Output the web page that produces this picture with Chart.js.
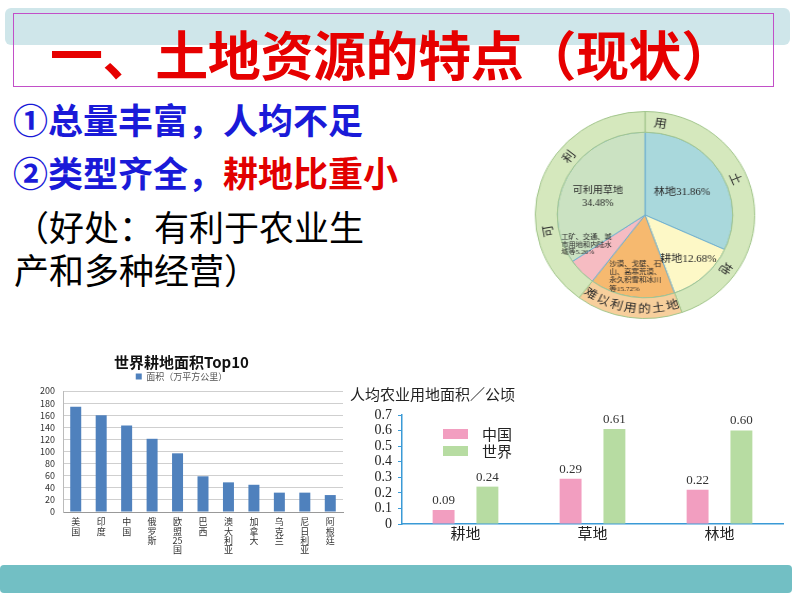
<!DOCTYPE html>
<html>
<head>
<meta charset="utf-8">
<script src="https://cdn.jsdelivr.net/npm/chart.js@4.4.0/dist/chart.umd.min.js"></script>
<style>
  body { margin: 0; width: 794px; height: 596px; background: #fff; position: relative; overflow: hidden;
         font-family: "Noto Sans CJK SC", sans-serif; }
  .abs { position: absolute; white-space: nowrap; }
  .pt { font-size: 35px; line-height: 40px; }
  .blue { color: #1a1ad8; font-weight: bold; }
  .red { color: #e20000; font-weight: bold; }
</style>
</head>
<body>
<!-- 상단 제목 영역 -->
<div class="abs" style="left:5px;top:8px;width:785px;height:37px;background:#cfe6ea;border-radius:6px"></div>
<div class="abs" style="left:13px;top:13px;width:759px;height:72px;border:1px solid #c24fc8"></div>
<div class="abs" style="left:50px;top:25px;font-size:53px;line-height:56px;letter-spacing:-0.4px;font-weight:bold;color:#e60000">一、土地资源的特点（现状）</div>

<div class="abs pt blue" style="left:13px;top:99px">①总量丰富，人均不足</div>
<div class="abs pt blue" style="left:13px;top:152px">②类型齐全，<span class="red">耕地比重小</span></div>
<div class="abs pt" style="left:14px;top:206px;color:#000">（好处：有利于农业生</div>
<div class="abs pt" style="left:14px;top:249px;color:#000">产和多种经营）</div>

<!-- 차트 영역 -->
<div class="abs" style="left:541px;top:111px;width:208px;height:208px;transform:scaleX(1.06);transform-origin:50% 50%">
  <canvas id="pie" width="208" height="208"></canvas>
</div>
<canvas id="top10" class="abs" style="left:20px;top:353px" width="328" height="209"></canvas>
<canvas id="perCapita" class="abs" style="left:350px;top:383px" width="440" height="176"></canvas>

<!-- 하단 띠 -->
<div class="abs" style="left:0;top:565px;width:792px;height:28px;background:#72bfc4;border-radius:4px"></div>

<script>
// ---- 데이터 ----
const landTypes = ['林地', '耕地', '沙漠、戈壁、石山、高寒荒漠、永久积雪和冰川等', '工矿、交通、城市用地和内陆水域等', '可利用草地'];
const landShares = [31.86, 12.68, 15.72, 5.26, 34.48];
const sliceLabels = [
  ['林地31.86%'],
  ['耕地12.68%'],
  ['沙漠、戈壁、石', '山、高寒荒漠、', '永久积雪和冰川', '等15.72%'],
  ['工矿、交通、城', '市用地和内陆水', '域等5.26%'],
  ['可利用草地', '34.48%'],
];
const ringGroups = ['可利用土地', '难以利用的土地', '可利用土地'];
const ringShares = [44.54, 15.72, 39.74];

const countries = ['美国', '印度', '中国', '俄罗斯', '欧盟25国', '巴西', '澳大利亚', '加拿大', '乌克兰', '尼日利亚', '阿根廷'];
const arableArea = [174, 160, 143, 121, 97, 59, 49, 45, 32, 32, 28];

const landUses = ['耕地', '草地', '林地'];
const seriesNames = ['中国', '世界'];
const chinaPerCapita = [0.09, 0.29, 0.22];
const worldPerCapita = [0.24, 0.61, 0.60];

Chart.defaults.animation = false;
Chart.defaults.font.family = '"Noto Sans CJK SC", sans-serif';
Chart.defaults.color = '#333';

const SERIF = '"Liberation Serif", "Noto Sans CJK SC", serif';

// 바깥 고리 글자 + 조각 라벨
const ringText = {
  id: 'ringText',
  afterDatasetsDraw(chart, args, opts) {
    const ctx = chart.ctx;
    const ring = chart.getDatasetMeta(0).data[0];
    const cx = ring.x, cy = ring.y;
    const r = (ring.outerRadius + ring.innerRadius) / 2;
    ctx.save();
    ctx.fillStyle = '#2a2a2a';
    ctx.textAlign = 'center';
    ctx.textBaseline = 'middle';
    ctx.font = '12px "Noto Sans CJK SC"';
    [...ringGroups[0]].forEach((ch, i) => {
      const a = opts.usable[i] * Math.PI / 180;
      ctx.save();
      ctx.translate(cx + r * Math.sin(a), cy - r * Math.cos(a));
      ctx.rotate(a);
      ctx.fillText(ch, 0, 0);
      ctx.restore();
    });
    const chars = [...ringGroups[1]];
    const step = (opts.hardFrom - opts.hardTo) / (chars.length - 1);
    chars.forEach((ch, i) => {
      const a = (opts.hardFrom - step * i) * Math.PI / 180;
      ctx.save();
      ctx.translate(cx + r * Math.sin(a), cy - r * Math.cos(a));
      ctx.rotate(a - Math.PI);
      ctx.fillText(ch, 0, 0);
      ctx.restore();
    });

    const meta = chart.getDatasetMeta(1);
    meta.data.forEach((arc, i) => {
      const p = opts.place[i];
      const mid = (arc.startAngle + arc.endAngle) / 2 + p.da * Math.PI / 180;
      const rr = arc.outerRadius * p.f;
      const x = arc.x + Math.cos(mid) * rr;
      const y = arc.y + Math.sin(mid) * rr;
      const lines = sliceLabels[i];
      ctx.font = `${p.size}px ${SERIF}`;
      const lh = p.size * p.lh;
      const maxW = Math.max(...lines.map(t => ctx.measureText(t).width));
      ctx.textAlign = p.left ? 'left' : 'center';
      const tx = p.left ? x - maxW / 2 : x;
      lines.forEach((t, j) => ctx.fillText(t, tx, y + (j - (lines.length - 1) / 2) * lh));
    });
    ctx.restore();
  },
};

new Chart(document.getElementById('pie'), {
  type: 'doughnut',
  data: {
    labels: landTypes,
    datasets: [
      {
        data: ringShares,
        backgroundColor: ['#d5e8bd', '#f7cf9c', '#d5e8bd'],
        borderColor: '#a3c68d',
        borderWidth: 1,
        weight: 1,
      },
      {
        data: landShares,
        backgroundColor: ['#a9d8dc', '#fdf8c6', '#f6b96f', '#f6bcc2', '#cbe2c2'],
        borderColor: '#6fb0cf',
        borderWidth: 1,
        weight: 4,
      },
    ],
  },
  options: {
    responsive: false,
    cutout: 0,
    layout: { padding: 0 },
    plugins: {
      legend: { display: false },
      tooltip: { enabled: false },
      ringText: {
        usable: [260, 309, 9, 67, 125],
        hardFrom: 213,
        hardTo: 164,
        place: [
          { f: 0.5, da: 0, size: 10.5, lh: 1.25 },
          { f: 0.73, da: 0, size: 10.5, lh: 1.25 },
          { f: 0.75, da: 0, size: 7, lh: 1.2, left: true },
          { f: 0.76, da: 15, size: 6.8, lh: 1.1, left: true },
          { f: 0.58, da: -6, size: 9.5, lh: 1.3 },
        ],
      },
    },
  },
  plugins: [ringText],
});

// 세계 경지면적 Top10
new Chart(document.getElementById('top10'), {
  type: 'bar',
  data: {
    labels: countries,
    datasets: [{
      label: '面积（万平方公里）',
      data: arableArea,
      backgroundColor: '#4f81bd',
      categoryPercentage: 0.8,
      barPercentage: 0.54,
    }],
  },
  options: {
    responsive: false,
    layout: { padding: { right: 5 } },
    plugins: {
      title: {
        display: true,
        text: '世界耕地面积Top10',
        font: { size: 15, weight: 'bold' },
        color: '#111',
        padding: { top: 0, bottom: 0 },
      },
      legend: {
        labels: { boxWidth: 6, boxHeight: 6, font: { size: 9 }, color: '#555', padding: 1 },
      },
      tooltip: { enabled: false },
    },
    scales: {
      x: {
        grid: { display: false, drawTicks: false },
        border: { color: '#999' },
        ticks: {
          font: { size: 9, lineHeight: 1.05 },
          color: '#333',
          maxRotation: 0,
          autoSkip: false,
          padding: 5,
          callback: (v, i) => countries[i].match(/\d+|./g),
        },
        afterFit: s => { s.height = 50; },
      },
      y: {
        min: 0,
        max: 200,
        ticks: { stepSize: 20, autoSkip: false, font: { size: 9 }, color: '#333', padding: 8 },
        grid: { color: '#cfcfcf', drawTicks: false },
        border: { display: true, color: '#bbb' },
        afterFit: s => { s.width = 43; },
      },
    },
  },
});

// 1인당 농업용지 면적
const valueLabels = {
  id: 'valueLabels',
  afterDatasetsDraw(chart) {
    const ctx = chart.ctx;
    ctx.save();
    ctx.font = `13px ${SERIF}`;
    ctx.fillStyle = '#333';
    ctx.textAlign = 'center';
    ctx.textBaseline = 'bottom';
    chart.data.datasets.forEach((ds, di) => {
      chart.getDatasetMeta(di).data.forEach((bar, i) => {
        ctx.fillText(ds.data[i].toFixed(2), bar.x, bar.y - 3);
      });
    });
    ctx.restore();
  },
};

const innerLegend = {
  id: 'innerLegend',
  afterDraw(chart) {
    const ctx = chart.ctx;
    const { left, top } = chart.chartArea;
    ctx.save();
    ctx.font = '15px "Noto Sans CJK SC"';
    ctx.textBaseline = 'middle';
    chart.data.datasets.forEach((ds, i) => {
      const y = top + 19 + i * 17;
      ctx.fillStyle = ds.backgroundColor;
      ctx.fillRect(left + 41, y - 5, 25, 10);
      ctx.fillStyle = '#222';
      ctx.fillText(ds.label, left + 80, y);
    });
    ctx.restore();
  },
};

new Chart(document.getElementById('perCapita'), {
  type: 'bar',
  data: {
    labels: landUses,
    datasets: [
      { label: seriesNames[0], data: chinaPerCapita, backgroundColor: '#f29ec0', categoryPercentage: 0.69, barPercentage: 0.5 },
      { label: seriesNames[1], data: worldPerCapita, backgroundColor: '#b7dca2', categoryPercentage: 0.69, barPercentage: 0.5 },
    ],
  },
  options: {
    responsive: false,
    layout: { padding: { right: 7 } },
    plugins: {
      title: {
        display: true,
        text: '人均农业用地面积／公顷',
        align: 'start',
        font: { size: 15, weight: 'normal' },
        color: '#222',
        padding: { top: 2, bottom: 12 },
      },
      legend: { display: false },
      tooltip: { enabled: false },
    },
    scales: {
      x: {
        grid: { display: false, drawTicks: false },
        border: { color: '#3a9ad6', width: 1.5 },
        ticks: { font: { size: 15 }, color: '#222', padding: 0 },
        afterFit: s => { s.height = 35; },
      },
      y: {
        min: 0,
        max: 0.7,
        ticks: {
          stepSize: 0.1,
          autoSkip: false,
          font: { size: 14, family: SERIF },
          color: '#222',
          padding: 6,
          callback: v => (v === 0 ? '0' : v.toFixed(1)),
        },
        grid: { drawOnChartArea: false, tickLength: 4, color: '#3a9ad6' },
        border: { color: '#3a9ad6', width: 1.5 },
        afterFit: s => { s.width = 52; },
      },
    },
  },
  plugins: [valueLabels, innerLegend],
});
</script>
</body>
</html>
